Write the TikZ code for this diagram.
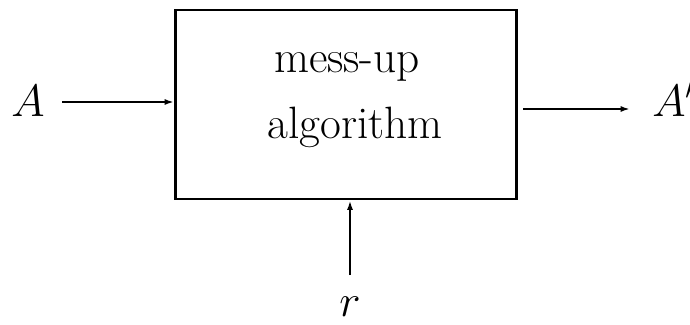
\RequirePackage{fix-cm}
\documentclass[tikz,border=0pt]{standalone}
\usetikzlibrary{arrows.meta}
\begin{document}
\begin{tikzpicture}[x=0.75pt,y=-0.75pt,
  boxst/.style={draw,line width=2.2pt,rectangle,minimum width=341*0.75pt,minimum height=189*0.75pt,inner sep=0pt},
  lbl/.style={font=\fontsize{34}{40}\selectfont,inner sep=0pt,anchor=base},
  mlbl/.style={font=\fontsize{34}{40}\selectfont,inner sep=0pt,anchor=base},
  arr/.style={line width=1.5pt,-{Latex[length=7pt,width=4.5pt]}}]
\useasboundingbox (0,0) rectangle (690,325);
\node[boxst] (box) at (346,104.5) {};
\node[lbl] (t1) at (347,72) {mess-up};
\node[lbl] (t2) at (355,138) {algorithm};
\node[mlbl] (A) at (28,116) {$A$};
\node[mlbl,anchor=base west] (Ap) at (652,116) {$A'$};
\node[mlbl] (r) at (350,316) {$r$};
\coordinate (a1) at (62,102);
\coordinate (b0) at (523,109);
\coordinate (b1) at (630,109);
\coordinate (r1) at (350,275);
\draw[arr] (a1) -- (a1 -| box.west);
\draw[arr] (b0) -- (b1);
\draw[arr] (r1) -- (r1 |- box.south);
\end{tikzpicture}
\end{document}
